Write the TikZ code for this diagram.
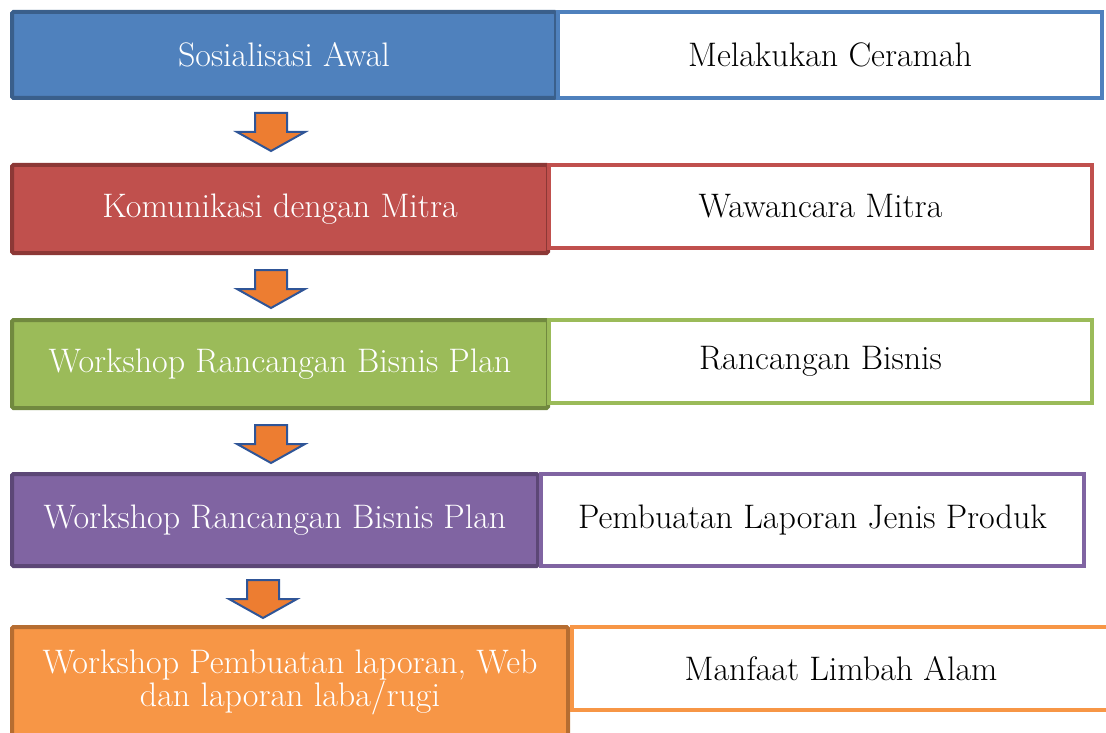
\documentclass[tikz,border=0pt]{standalone}
\definecolor{stepblue}{HTML}{4F81BD}
\definecolor{stepblueD}{HTML}{3A5F8B}
\definecolor{stepred}{HTML}{C0504D}
\definecolor{stepredD}{HTML}{8C3836}
\definecolor{stepgreen}{HTML}{9BBB59}
\definecolor{stepgreenD}{HTML}{71893F}
\definecolor{steppurple}{HTML}{8064A2}
\definecolor{steppurpleD}{HTML}{5C4776}
\definecolor{steporange}{HTML}{F79646}
\definecolor{steporangeD}{HTML}{B66D31}
\definecolor{arrfill}{HTML}{ED7D31}
\definecolor{arredge}{HTML}{2F5597}

\begin{document}
\begin{tikzpicture}[x=1pt,y=-1pt,
    stage/.style={draw,line width=4pt,rounded corners=1.5pt,text=white,align=center,
                  inner sep=0pt,font=\fontsize{34}{33}\selectfont},
    result/.style={draw,fill=white,line width=4pt,text=black,inner sep=0pt,
                   font=\fontsize{34}{33}\selectfont},
    blockarrow/.style={fill=arrfill,draw=arredge,line width=2pt}
]
    \useasboundingbox (0,0) rectangle (1106,733);

    % Row 1
    \node[stage,fill=stepblue,draw=stepblueD,minimum width=544pt,minimum height=86pt] (stage1) at (284,55) {Sosialisasi Awal};
    \node[result,draw=stepblue,minimum width=544pt,minimum height=86pt] (out1) at (830,55) {Melakukan Ceramah};

    % Row 2
    \node[stage,fill=stepred,draw=stepredD,minimum width=536pt,minimum height=88pt] (stage2) at (280,209) {Komunikasi dengan Mitra};
    \node[result,draw=stepred,minimum width=543pt,minimum height=83pt] (out2) at (820.5,206.5) {Wawancara Mitra};

    % Row 3
    \node[stage,fill=stepgreen,draw=stepgreenD,minimum width=536pt,minimum height=88pt] (stage3) at (280,364) {Workshop Rancangan Bisnis Plan};
    \node[result,draw=stepgreen,minimum width=543pt,minimum height=83pt] (out3) at (820.5,361.5) {Rancangan Bisnis};

    % Row 4
    \node[stage,fill=steppurple,draw=steppurpleD,minimum width=526pt,minimum height=92pt] (stage4) at (275,520) {Workshop Rancangan Bisnis Plan};
    \node[result,draw=steppurple,minimum width=543pt,minimum height=92pt] (out4) at (812.5,520) {Pembuatan Laporan Jenis Produk};

    % Row 5
    \node[stage,fill=steporange,draw=steporangeD,minimum width=556pt,minimum height=110pt] (stage5) at (290,682) {Workshop Pembuatan laporan, Web\\dan laporan laba/rugi};
    \node[result,draw=steporange,minimum width=538pt,minimum height=83pt] (out5) at (841,668.5) {Manfaat Limbah Alam};

    % Block arrows between the rows
    \foreach \x/\y in {271/113,271/270,271/425,263/580} {
        \draw[blockarrow] ({\x-16},\y) -- ({\x+16},\y) -- ({\x+16},{\y+19}) -- ({\x+34},{\y+19})
            -- (\x,{\y+38}) -- ({\x-34},{\y+19}) -- ({\x-16},{\y+19}) -- cycle;
    }
\end{tikzpicture}
\end{document}
